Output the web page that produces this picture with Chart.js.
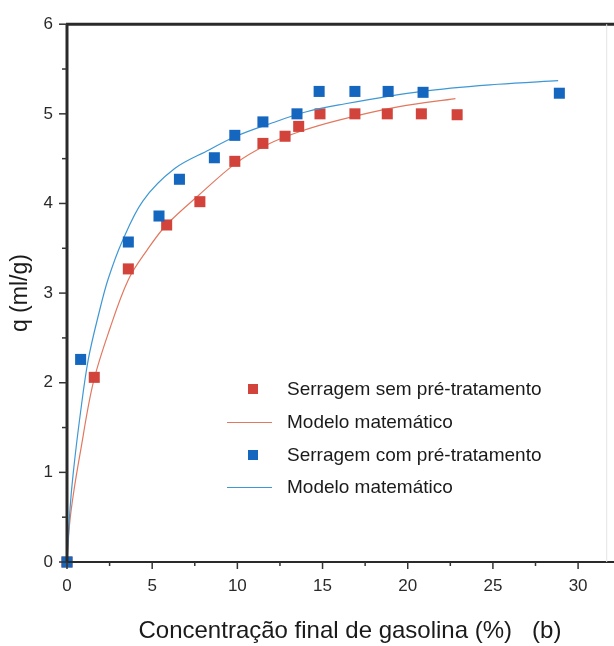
<!DOCTYPE html>
<html>
<head>
<meta charset="utf-8">
<script src="https://cdn.jsdelivr.net/npm/chart.js@4.4.1/dist/chart.umd.min.js"></script>
<style>
  html, body { margin: 0; padding: 0; background: #fff; }
  #wrap { width: 614px; height: 646px; }
</style>
</head>
<body>
<div id="wrap"><canvas id="chart"></canvas></div>
<script>
// Serragem sem pré-tratamento (pontos experimentais)
const semX = [0, 1.6, 3.6, 5.85, 7.8, 9.85, 11.5, 12.8, 13.6, 14.85, 16.9, 18.8, 20.8, 22.9];
const semY = [0, 2.06, 3.27, 3.76, 4.02, 4.47, 4.67, 4.75, 4.86, 5.0, 5.0, 5.0, 5.0, 4.99];

// Serragem com pré-tratamento (pontos experimentais)
const comX = [0, 0.8, 3.6, 5.4, 6.6, 8.65, 9.85, 11.5, 13.5, 14.8, 16.9, 18.85, 20.9, 28.9];
const comY = [0, 2.26, 3.57, 3.86, 4.27, 4.51, 4.76, 4.91, 5.0, 5.25, 5.25, 5.25, 5.24, 5.23];

// Modelo matemático (curvas)
const modelSemX = [0, 0.14, 0.37, 0.76, 1.54, 2.51, 3.6, 4.7, 5.83, 7.78, 9.92, 11.68, 13.63, 15.96, 19.5, 22.8];
const modelSemY = [0, 0.4, 0.75, 1.2, 2.0, 2.6, 3.15, 3.48, 3.76, 4.1, 4.45, 4.65, 4.8, 4.93, 5.08, 5.17];
const modelComX = [0, 0.18, 0.37, 0.76, 1.25, 1.93, 2.42, 3.2, 4.46, 6.32, 8.36, 9.92, 12.06, 14.0, 15.96, 20.84, 25.3, 28.83];
const modelComY = [0, 0.6, 1.0, 1.62, 2.26, 2.82, 3.16, 3.56, 4.03, 4.39, 4.6, 4.75, 4.9, 5.02, 5.1, 5.25, 5.33, 5.37];

// Eixos
const xTicks = [0, 5, 10, 15, 20, 25, 30];
const yTicks = [0, 1, 2, 3, 4, 5, 6];

const labels = [
  "Serragem sem pré-tratamento",
  "Modelo matemático",
  "Serragem com pré-tratamento",
  "Modelo matemático",
];

const toPoints = (xs, ys) => xs.map((x, i) => ({ x, y: ys[i] }));

const FONT = "'Liberation Sans', Arial, sans-serif";
const RED = "#d2443b", BLUE = "#1566be";
const RED_LINE = "#e2785f", BLUE_LINE = "#3e98d4";

// axis lines, tick marks and the legend box inside the plot
const framePlugin = {
  id: "frame",
  afterDatasetsDraw(chart) {
    const { ctx, chartArea: a, scales: { x, y } } = chart;
    ctx.save();
    ctx.strokeStyle = "#2a2a2a";
    ctx.lineCap = "butt";

    // top border
    ctx.lineWidth = 3;
    ctx.beginPath(); ctx.moveTo(a.left - 1, a.top); ctx.lineTo(chart.width, a.top); ctx.stroke();
    // left axis
    ctx.beginPath(); ctx.moveTo(a.left, a.top); ctx.lineTo(a.left, a.bottom + 1); ctx.stroke();
    // bottom axis
    ctx.lineWidth = 2;
    ctx.beginPath(); ctx.moveTo(a.left, a.bottom); ctx.lineTo(chart.width, a.bottom); ctx.stroke();
    // faint right border
    ctx.strokeStyle = "#e4e4e4"; ctx.lineWidth = 1;
    ctx.beginPath(); ctx.moveTo(a.right + 0.5, a.top); ctx.lineTo(a.right + 0.5, a.bottom); ctx.stroke();

    ctx.strokeStyle = "#333"; ctx.lineWidth = 1.5;
    for (let v = 0; v <= 30; v += 2.5) {
      const px = x.getPixelForValue(v);
      const len = v % 5 === 0 ? 7 : 4;
      ctx.beginPath(); ctx.moveTo(px, a.bottom); ctx.lineTo(px, a.bottom + len); ctx.stroke();
    }
    for (let v = 0; v <= 6; v += 0.5) {
      const py = y.getPixelForValue(v);
      const len = v % 1 === 0 ? 8 : 5;
      ctx.beginPath(); ctx.moveTo(a.left, py); ctx.lineTo(a.left - len, py); ctx.stroke();
    }

    // legend
    const ds = chart.data.datasets;
    const rows = [389, 422, 455, 487];
    ctx.font = "19px " + FONT;
    ctx.textBaseline = "middle";
    ds.forEach((d, i) => {
      const ry = rows[i];
      if (d.showLine) {
        ctx.strokeStyle = d.borderColor; ctx.lineWidth = 1;
        ctx.beginPath(); ctx.moveTo(227, ry + 0.5); ctx.lineTo(272, ry + 0.5); ctx.stroke();
      } else {
        ctx.fillStyle = d.backgroundColor;
        ctx.fillRect(248, ry - 5, 10, 10);
      }
      ctx.fillStyle = "#1a1a1a";
      ctx.fillText(d.label, 287, ry + 1);
    });
    ctx.restore();
  },
};

new Chart(document.getElementById("chart"), {
  type: "scatter",
  data: {
    datasets: [
      {
        label: labels[0],
        data: toPoints(semX, semY),
        backgroundColor: RED, borderColor: RED,
        pointStyle: "rect", pointRadius: 7.8, borderWidth: 0,
        clip: false, order: 3,
      },
      {
        label: labels[1],
        data: toPoints(modelSemX, modelSemY),
        showLine: true, borderColor: RED_LINE, borderWidth: 1.2,
        pointRadius: 0, tension: 0.35, order: 4,
      },
      {
        label: labels[2],
        data: toPoints(comX, comY),
        backgroundColor: BLUE, borderColor: BLUE,
        pointStyle: "rect", pointRadius: 7.8, borderWidth: 0,
        clip: false, order: 1,
      },
      {
        label: labels[3],
        data: toPoints(modelComX, modelComY),
        showLine: true, borderColor: BLUE_LINE, borderWidth: 1.2,
        pointRadius: 0, tension: 0.35, order: 2,
      },
    ],
  },
  options: {
    responsive: true,
    maintainAspectRatio: false,
    animation: false,
    layout: { padding: { top: 23, right: 6, left: 0, bottom: 0 } },
    plugins: { legend: { display: false }, tooltip: { enabled: false } },
    scales: {
      x: {
        type: "linear", min: 0, max: 31.65,
        afterFit(scale) { scale.height = 84; },
        afterBuildTicks(scale) { scale.ticks = xTicks.map(v => ({ value: v })); },
        grid: { display: false, drawTicks: false },
        border: { display: false },
        ticks: { padding: 14, color: "#2a2a2a", font: { family: FONT, size: 17 } },
        title: {
          display: true,
          text: "    Concentração final de gasolina (%)   (b)",
          color: "#1a1a1a",
          font: { family: FONT, size: 24 },
          padding: { top: 2, bottom: 0 },
        },
      },
      y: {
        type: "linear", min: 0, max: 6,
        afterFit(scale) { scale.width = 67; },
        afterBuildTicks(scale) { scale.ticks = yTicks.map(v => ({ value: v })); },
        grid: { display: false, drawTicks: false },
        border: { display: false },
        ticks: { padding: 14, color: "#2a2a2a", font: { family: FONT, size: 17 } },
        title: {
          display: true,
          text: "q (ml/g)",
          color: "#1a1a1a",
          font: { family: FONT, size: 23 },
          padding: { top: 7, bottom: 0 },
        },
      },
    },
  },
  plugins: [framePlugin],
});
</script>
</body>
</html>
